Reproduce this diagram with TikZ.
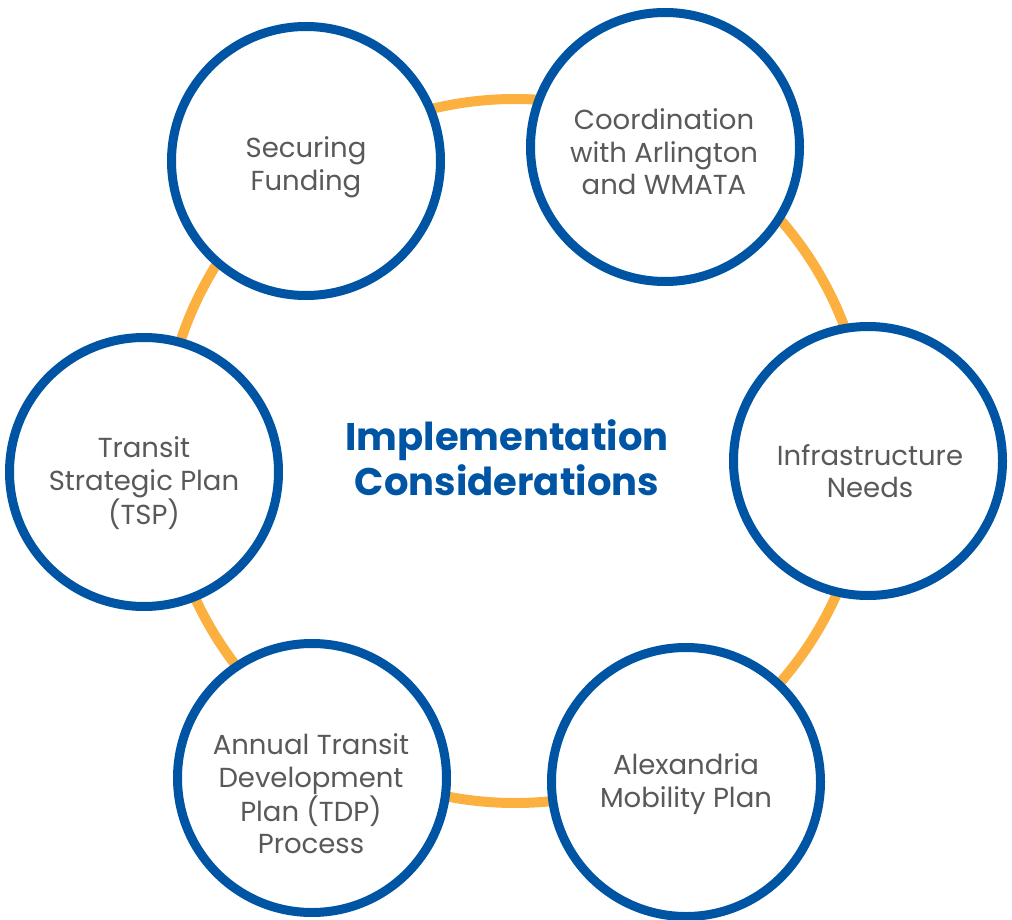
\documentclass[tikz,border=0pt]{standalone}
\usepackage{fontspec}
\setmainfont{Poppins}
\definecolor{ringor}{HTML}{FBB040}
\definecolor{cblue}{HTML}{0054A4}
\definecolor{tgray}{HTML}{58595B}
\begin{document}
\begin{tikzpicture}[x=1pt,y=-1pt,
  bub/.style={circle,draw=cblue,line width=9pt,fill=white,minimum size=269pt,inner sep=0pt},
  btxt/.style={text=tgray,align=center,font=\fontsize{27.5}{32.5}\selectfont},
  title/.style={text=cblue,align=center,font=\fontsize{38.5}{45}\selectfont\bfseries}]
\useasboundingbox (0,0) rectangle (1012,920);
\coordinate (rc) at (515,451);
\draw[ringor,line width=10pt] (rc) circle[radius=352];
\node[bub] (c1) at (306,161) {};
\node[bub] (c2) at (665,147) {};
\node[bub] (c3) at (868,461) {};
\node[bub] (c4) at (686,782) {};
\node[bub] (c5) at (312,778) {};
\node[bub] (c6) at (144,472) {};
\node[btxt] (t1) at (306,167) {Securing\\Funding};
\node[btxt] (t2) at (664,152) {Coordination\\with Arlington\\and WMATA};
\node[btxt] (t3) at (870,471) {Infrastructure\\Needs};
\node[btxt] (t4) at (686,784) {Alexandria\\Mobility Plan};
\node[btxt] (t5) at (311,794) {Annual Transit\\Development\\Plan (TDP)\\Process};
\node[btxt] (t6) at (144,483) {Transit\\Strategic Plan\\(TSP)};
\node[title] (tt) at (507,458) {Implementation\\Considerations};
\end{tikzpicture}
\end{document}
